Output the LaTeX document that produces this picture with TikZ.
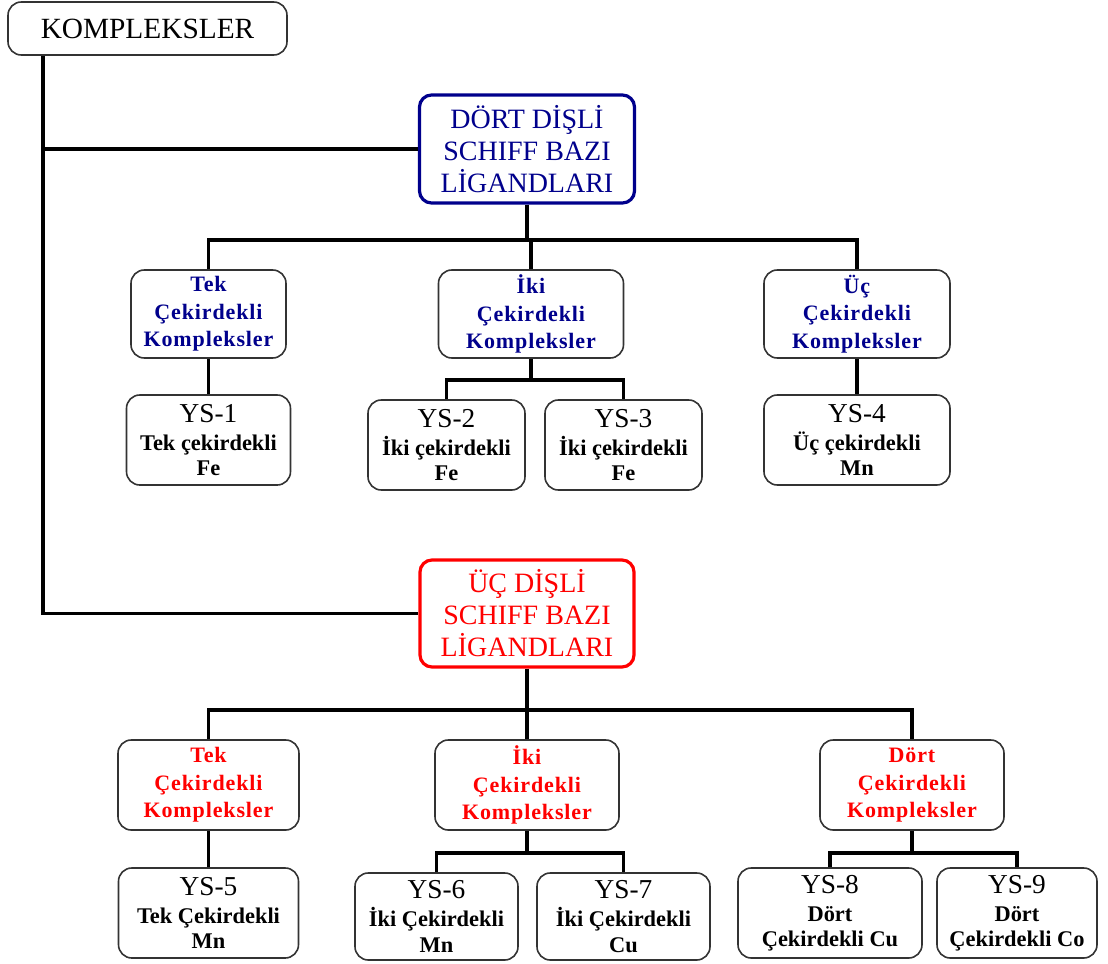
\documentclass[tikz,border=0pt]{standalone}
\usepackage{fontspec}
\setmainfont{Liberation Serif}
\newfontfamily\spacedserif[LetterSpace=4]{Liberation Serif}
\definecolor{navyb}{RGB}{0,0,140}
\definecolor{redb}{RGB}{255,0,0}
\newcommand\topfnt{\fontsize{22}{26}\selectfont}
\newcommand\bigfnt{\fontsize{21}{24}\selectfont}
\newcommand\catfnt{\spacedserif\bfseries\fontsize{16.5}{20.5}\selectfont}
\newcommand\ysfnt{\mdseries\fontsize{20.5}{19}\selectfont}
\newcommand\subfnt{\bfseries\fontsize{16.8}{19}\selectfont}
\tikzset{
  box/.style={draw=black!80, line width=1.2pt, rounded corners=10pt, fill=white, align=center, inner sep=0pt},
  bigbox/.style={draw=#1, text=#1, line width=2.4pt, rounded corners=9pt, fill=white, align=center, inner sep=0pt, font=\bigfnt},
  cat/.style={box, text=#1, font=\catfnt},
  ysbox/.style={box, font=\subfnt},
  sz/.style n args={2}{minimum width=#1*0.75pt, minimum height=#2*0.75pt},
  link/.style={line width=2.3pt, black}
}
\begin{document}
\begin{tikzpicture}[x=0.75pt,y=-0.75pt]
\useasboundingbox[fill=white] (0,0) rectangle (1108,964);

% top level
\node[box, sz={279}{53}, font=\topfnt] (top) at (147.5,28.5) {KOMPLEKSLER};
\node[bigbox=navyb, sz={215}{108}] (D4) at (527,149) {DÖRT DİŞLİ\\SCHIFF BAZI\\LİGANDLARI};
\node[bigbox=redb, sz={214}{107}] (R3) at (527,613.5) {ÜÇ DİŞLİ\\SCHIFF BAZI\\LİGANDLARI};

% blue branch
\node[cat=navyb, sz={155}{88}] (t1) at (208.5,314) {Tek\\Çekirdekli\\Kompleksler};
\node[cat=navyb, sz={185}{88}] (i1) at (531,314) {İki\\Çekirdekli\\Kompleksler};
\node[cat=navyb, sz={186}{88}] (u1) at (857,314) {Üç\\Çekirdekli\\Kompleksler};

\node[ysbox, sz={164}{90}] (y1) at (208.5,440) {\ysfnt YS-1\\[2pt]Tek çekirdekli\\Fe};
\node[ysbox, sz={157}{90}] (y2) at (446.5,445) {\ysfnt YS-2\\[2pt]İki çekirdekli\\Fe};
\node[ysbox, sz={157}{90}] (y3) at (623.5,445) {\ysfnt YS-3\\[2pt]İki çekirdekli\\Fe};
\node[ysbox, sz={186}{90}] (y4) at (857,440) {\ysfnt YS-4\\[2pt]Üç çekirdekli\\Mn};

% red branch
\node[cat=redb, sz={181}{90}] (t2) at (208.5,785) {Tek\\Çekirdekli\\Kompleksler};
\node[cat=redb, sz={184}{90}] (i2) at (527,785) {İki\\Çekirdekli\\Kompleksler};
\node[cat=redb, sz={184}{90}] (d2) at (912,785) {Dört\\Çekirdekli\\Kompleksler};

\node[ysbox, sz={180}{90}] (y5) at (208.5,913) {\ysfnt YS-5\\[2pt]Tek Çekirdekli\\Mn};
\node[ysbox, sz={163}{87}] (y6) at (436.5,916.5) {\ysfnt YS-6\\[2pt]İki Çekirdekli\\Mn};
\node[ysbox, sz={173}{87}] (y7) at (623.5,916.5) {\ysfnt YS-7\\[2pt]İki Çekirdekli\\Cu};
\node[ysbox, sz={184}{90}] (y8) at (830,913) {\ysfnt YS-8\\[2pt]Dört\\Çekirdekli Cu};
\node[ysbox, sz={160}{90}] (y9) at (1017,913) {\ysfnt YS-9\\[2pt]Dört\\Çekirdekli Co};

% trunk
\coordinate (tr) at (43,0);
\draw[link] (top.south -| tr) |- (R3.west);
\draw[link] (D4.west -| tr) -- (D4.west);

% blue connectors
\coordinate (b1) at (0,240);
\coordinate (b2) at (0,380);
\draw[link] (D4.south) -- (D4.south |- b1);
\draw[link] (t1.north) -- (t1.north |- b1) -- (u1.north |- b1) -- (u1.north);
\draw[link] (i1.north) -- (i1.north |- b1);
\draw[link] (t1.south) -- (y1.north);
\draw[link] (i1.south) -- (i1.south |- b2);
\draw[link] (y2.north) -- (y2.north |- b2) -- (y3.north |- b2) -- (y3.north);
\draw[link] (u1.south) -- (y4.north);

% red connectors
\coordinate (b3) at (0,710);
\coordinate (b4) at (0,853);
\draw[link] (R3.south) -- (R3.south |- b3);
\draw[link] (t2.north) -- (t2.north |- b3) -- (d2.north |- b3) -- (d2.north);
\draw[link] (i2.north) -- (i2.north |- b3);
\draw[link] (t2.south) -- (y5.north);
\draw[link] (i2.south) -- (i2.south |- b4);
\draw[link] (y6.north) -- (y6.north |- b4) -- (y7.north |- b4) -- (y7.north);
\draw[link] (d2.south) -- (d2.south |- b4);
\draw[link] (y8.north) -- (y8.north |- b4) -- (y9.north |- b4) -- (y9.north);
\end{tikzpicture}
\end{document}
